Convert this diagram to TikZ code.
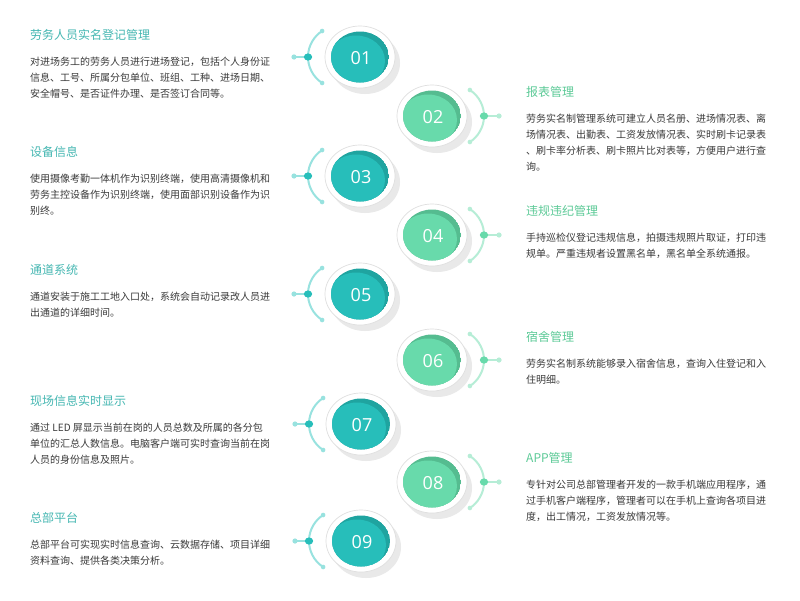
\documentclass[tikz,border=0pt]{standalone}
\usepackage{fontspec}
\newfontfamily\cjk{Noto Sans CJK SC}
\newfontfamily\numfont{Open Sans}
\definecolor{tealA}{HTML}{27BEBA}
\definecolor{tealD}{HTML}{1FA4A0}
\definecolor{tealL}{HTML}{98E2DF}
\definecolor{greenA}{HTML}{68DAAB}
\definecolor{greenD}{HTML}{55BC90}
\definecolor{greenL}{HTML}{B6EDD6}
\definecolor{ttlT}{HTML}{45B7B2}
\definecolor{ttlG}{HTML}{5CCA97}
\definecolor{bodyC}{HTML}{3A3A3A}
\tikzset{
  numtext/.style={text=white,font=\numfont\fontsize{18}{18}\selectfont,inner sep=0pt},
  ttlL/.style={anchor=west,inner sep=0pt,text=ttlT,font=\cjk\fontsize{12}{14}\selectfont},
  ttlR/.style={anchor=west,inner sep=0pt,text=ttlG,font=\cjk\fontsize{12}{14}\selectfont},
  bodytext/.style={anchor=north west,inner sep=0pt,align=left,text=bodyC,font=\cjk\fontsize{10}{16}\selectfont},
}
\newcommand\badgecore[5]{% name, x, y, text, colour prefix
  \fill[gray!17] (#2+5,#3+6) ellipse [x radius=35,y radius=31];
  \filldraw[fill=white,draw=gray!25,line width=0.7pt] (#2,#3) ellipse [x radius=35,y radius=31];
  \begin{scope}
    \clip (#2,#3) ellipse [x radius=29,y radius=25.5];
    \fill[#5D] (#2,#3) ellipse [x radius=29,y radius=25.5];
    \fill[#5A] (#2-4,#3+4) ellipse [x radius=29,y radius=25.5];
  \end{scope}
  \node[numtext] (#1) at (#2+1,#3+1) {#4};
}
\newcommand\badgeL[5]{%
  \badgecore{#1}{#2}{#3}{#4}{#5}
  \draw[#5L,line width=2pt] (#2-21,#3) ++(123:31) arc[start angle=123,end angle=237,radius=31];
  \fill[#5L] (#2-21,#3) ++(123:31) circle[radius=2.3];
  \fill[#5L] (#2-21,#3) ++(237:31) circle[radius=2.3];
  \draw[#5L,line width=2pt] (#2-52,#3) -- (#2-66,#3);
  \fill[#5L] (#2-66,#3) circle[radius=2.6];
  \fill[#5A] (#2-52,#3) ellipse[x radius=4.2,y radius=3.6];
}
\newcommand\badgeR[5]{%
  \badgecore{#1}{#2}{#3}{#4}{#5}
  \draw[#5L,line width=2pt] (#2+21,#3) ++(-57:31) arc[start angle=-57,end angle=57,radius=31];
  \fill[#5L] (#2+21,#3) ++(-57:31) circle[radius=2.3];
  \fill[#5L] (#2+21,#3) ++(57:31) circle[radius=2.3];
  \draw[#5L,line width=2pt] (#2+52,#3) -- (#2+67,#3);
  \fill[#5L] (#2+67,#3) circle[radius=2.6];
  \fill[#5A] (#2+52,#3) ellipse[x radius=4.2,y radius=3.6];
}
\begin{document}
\begin{tikzpicture}[x=1pt,y=-1pt]
\useasboundingbox[fill=white] (0,0) rectangle (800,600);

\badgeL{c1}{360}{57}{01}{teal}
\badgeR{c2}{432}{116}{02}{green}
\badgeL{c3}{360}{176}{03}{teal}
\badgeR{c4}{432}{235}{04}{green}
\badgeL{c5}{360}{294}{05}{teal}
\badgeR{c6}{432}{360}{06}{green}
\badgeL{c7}{361}{424}{07}{teal}
\badgeR{c8}{432}{482}{08}{green}
\badgeL{c9}{361}{541}{09}{teal}

% left texts
\node[ttlL] (t1) at (30,35) {劳务人员实名登记管理};
\node[bodytext] (b1) at (30,57) {对进场务工的劳务人员进行进场登记，包括个人身份证\\信息、工号、所属分包单位、班组、工种、进场日期、\\安全帽号、是否证件办理、是否签订合同等。};
\node[ttlL] (t3) at (30,152) {设备信息};
\node[bodytext] (b3) at (30,174) {使用摄像考勤一体机作为识别终端，使用高清摄像机和\\劳务主控设备作为识别终端，使用面部识别设备作为识\\别终。};
\node[ttlL] (t5) at (30,270) {通道系统};
\node[bodytext] (b5) at (30,292) {通道安装于施工工地入口处，系统会自动记录改人员进\\出通道的详细时间。};
\node[ttlL] (t7) at (30,401) {现场信息实时显示};
\node[bodytext] (b7) at (30,423) {通过 LED 屏显示当前在岗的人员总数及所属的各分包\\单位的汇总人数信息。电脑客户端可实时查询当前在岗\\人员的身份信息及照片。};
\node[ttlL] (t9) at (30,518) {总部平台};
\node[bodytext] (b9) at (30,540) {总部平台可实现实时信息查询、云数据存储、项目详细\\资料查询、提供各类决策分析。};

% right texts
\node[ttlR] (t2) at (526,92) {报表管理};
\node[bodytext] (b2) at (526,114) {劳务实名制管理系统可建立人员名册、进场情况表、离\\场情况表、出勤表、工资发放情况表、实时刷卡记录表\\、刷卡率分析表、刷卡照片比对表等，方便用户进行查\\询。};
\node[ttlR] (t4) at (526,211) {违规违纪管理};
\node[bodytext] (b4) at (526,233) {手持巡检仪登记违规信息，拍摄违规照片取证，打印违\\规单。严重违规者设置黑名单，黑名单全系统通报。};
\node[ttlR] (t6) at (526,337) {宿舍管理};
\node[bodytext] (b6) at (526,359) {劳务实名制系统能够录入宿舍信息，查询入住登记和入\\住明细。};
\node[ttlR] (t8) at (526,458) {APP管理};
\node[bodytext] (b8) at (526,480) {专针对公司总部管理者开发的一款手机端应用程序，通\\过手机客户端程序，管理者可以在手机上查询各项目进\\度，出工情况，工资发放情况等。};
\end{tikzpicture}
\end{document}
